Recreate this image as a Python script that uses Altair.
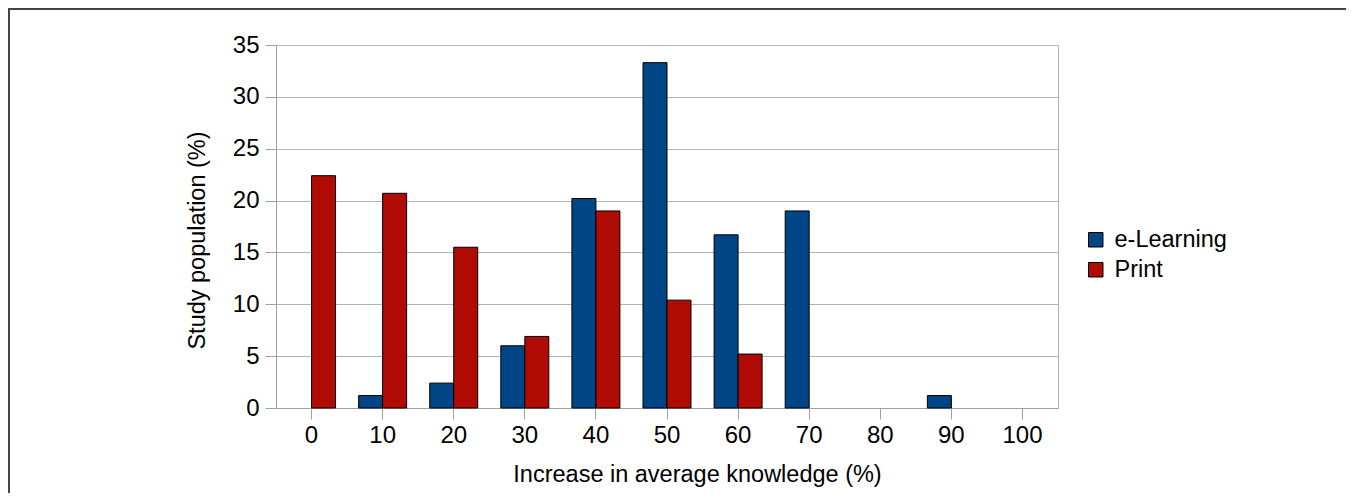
import altair as alt
import pandas as pd

categories = ["0", "10", "20", "30", "40", "50", "60", "70", "80", "90", "100"]
elearning = [0, 1.2, 2.4, 6.0, 20.2, 33.3, 16.7, 19.0, 0, 1.2, 0]
printed = [22.4, 20.7, 15.5, 6.9, 19.0, 10.4, 5.2, 0, 0, 0, 0]
series = ["e-Learning", "Print"]
colors = ["#004586", "#b00c05"]

rows = []
for c, e, p in zip(categories, elearning, printed):
    rows.append({"bin": c, "group": series[0], "value": e})
    rows.append({"bin": c, "group": series[1], "value": p})
df = pd.DataFrame(rows)

FONT = "Liberation Sans, Arial, sans-serif"
W, H = 782, 363

bars = alt.Chart(df).transform_filter("datum.value > 0").mark_bar(stroke="black", strokeWidth=1).encode(
    x=alt.X(
        "bin:N",
        sort=categories,
        scale=alt.Scale(domain=categories, paddingInner=0.325, paddingOuter=0.1625),
        axis=alt.Axis(
            title="Increase in average knowledge (%)",
            labelAngle=0,
            tickSize=11,
            labelPadding=4,
            titleX=421,
            titleY=66,
            titleAlign="center",
            titleBaseline="middle",
            grid=False,
        ),
    ),
    xOffset=alt.XOffset("group:N", sort=series, scale=alt.Scale(domain=series, paddingInner=0, paddingOuter=0)),
    y=alt.Y(
        "value:Q",
        scale=alt.Scale(domain=[0, 35]),
        axis=alt.Axis(
            title="Study population (%)",
            values=[0, 5, 10, 15, 20, 25, 30, 35],
            tickSize=11,
            labelPadding=6,
            titleX=-79,
            titleY=195,
            titleAngle=270,
            titleAlign="center",
            titleBaseline="middle",
            grid=True,
        ),
    ),
    color=alt.Color(
        "group:N",
        sort=series,
        scale=alt.Scale(domain=series, range=colors),
        legend=alt.Legend(
            title=None,
            orient="none",
            legendX=808,
            legendY=183,
            symbolType="square",
            symbolSize=210,
            symbolStrokeColor="black",
            symbolStrokeWidth=1,
            labelFontSize=23.5,
            labelFont=FONT,
            rowPadding=5,
            labelOffset=7,
        ),
    ),
)

frame = alt.Chart(alt.Data(values=[{"a": 1}])).mark_rule(color="#444444", strokeWidth=2).encode(
    x=alt.value(-267), x2=alt.value(1070), y=alt.value(-36)
)
frame_left = alt.Chart(alt.Data(values=[{"a": 1}])).mark_rule(color="#444444", strokeWidth=2).encode(
    x=alt.value(-267), y=alt.value(-37), y2=alt.value(460)
)

chart = alt.layer(bars, frame, frame_left).properties(
    width=W,
    height=H,
    autosize=alt.AutoSizeParams(type="none"),
    padding={"left": 268, "top": 37, "right": 1341 - 268 - W, "bottom": 485 - 37 - H},
    background="white",
).configure_view(
    stroke="#b3b3b3", strokeWidth=1
).configure_axis(
    labelFont=FONT,
    titleFont=FONT,
    labelFontSize=24,
    titleFontSize=23.5,
    labelColor="black",
    titleColor="black",
    titleFontWeight="normal",
    domainColor="#a0a0a0",
    tickColor="#a0a0a0",
    gridColor="#b3b3b3",
    domainWidth=1,
    tickWidth=1,
)

chart.save("out.html", embed_options={"renderer": "svg", "actions": False})
